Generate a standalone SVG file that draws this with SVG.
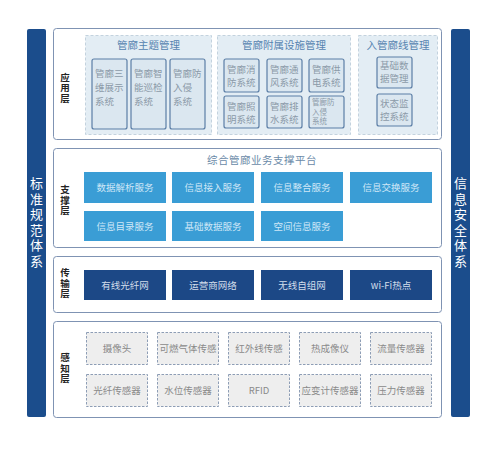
<svg xmlns="http://www.w3.org/2000/svg" width="499" height="461" viewBox="0 0 499 461">
<style>
text{font-family:"Noto Sans CJK SC","Noto Sans",sans-serif}
.bar{fill:#1b4d8c}
.bart{fill:#ffffff;font-size:13px;writing-mode:vertical-rl;letter-spacing:2.5px}
.layer{fill:#ffffff;stroke:#7f93b3;stroke-width:1}
.lt{fill:#222222;font-size:9.5px;font-weight:bold;writing-mode:vertical-rl;letter-spacing:1px}
.grp{fill:#e3edf4;stroke:#c3d2de;stroke-width:1;stroke-dasharray:3 2}
.gt{fill:#5583b0;font-size:10.5px;text-anchor:middle}
.item{fill:#dbe7f0;stroke:#5b7ea6;stroke-width:1.2}
.it{fill:#8b9aa8;font-size:9.5px}
.s2{fill:#8b9aa8;font-size:7.5px}
.svc{fill:#3a9dd5}
.svt{fill:#cfe7f7;font-size:9.5px;text-anchor:middle}
.net{fill:#1c4886}
.nt{fill:#d3deeb;font-size:9.5px;text-anchor:middle}
.sen{fill:#eeeeee;stroke:#8d9db5;stroke-width:1;stroke-dasharray:2.5 1.5}
.st{fill:#8a8a8a;font-size:9.5px;text-anchor:middle}
.pt{fill:#6a8aa8;font-size:10.5px;text-anchor:middle;letter-spacing:0.5px}
</style>
<rect width="499" height="461" fill="#ffffff"/>

<g id="standards">
<rect class="bar" x="27" y="29" width="19" height="388" rx="2"/>
<text class="bart" x="36.5" y="177">标准规范体系</text>
</g>
<g id="security">
<rect class="bar" x="451" y="29" width="19" height="388" rx="2"/>
<text class="bart" x="460.5" y="177">信息安全体系</text>
</g>

<g id="app-layer">
<rect class="layer" x="53.5" y="28.5" width="388" height="111" rx="3"/>
<text class="lt" x="65" y="72.5">应用层</text>
</g>
<g id="app-g1">
<rect class="grp" x="85.5" y="35.5" width="126" height="99"/>
<text class="gt" x="148.5" y="49">管廊主题管理</text>
<rect class="item" x="92" y="59" width="35" height="70" rx="2"/>
<text class="it" x="95" y="77">管廊三<tspan x="95" dy="14">维展示</tspan><tspan x="95" dy="14">系统</tspan></text>
<rect class="item" x="131" y="59" width="35" height="70" rx="2"/>
<text class="it" x="134" y="77">管廊智<tspan x="134" dy="14">能巡检</tspan><tspan x="134" dy="14">系统</tspan></text>
<rect class="item" x="170" y="59" width="35" height="70" rx="2"/>
<text class="it" x="173" y="77">管廊防<tspan x="173" dy="14">入侵</tspan><tspan x="173" dy="14">系统</tspan></text>
</g>
<g id="app-g2">
<rect class="grp" x="217.5" y="35.5" width="133" height="99"/>
<text class="gt" x="284" y="49">管廊附属设施管理</text>
<rect class="item" x="224" y="59" width="35" height="33" rx="2"/>
<text class="it" x="227" y="73">管廊消<tspan x="227" dy="13">防系统</tspan></text>
<rect class="item" x="267" y="59" width="35" height="33" rx="2"/>
<text class="it" x="270" y="73">管廊通<tspan x="270" dy="13">风系统</tspan></text>
<rect class="item" x="309" y="59" width="35" height="33" rx="2"/>
<text class="it" x="312" y="73">管廊供<tspan x="312" dy="13">电系统</tspan></text>
<rect class="item" x="224" y="96" width="35" height="32" rx="2"/>
<text class="it" x="227" y="110">管廊照<tspan x="227" dy="13">明系统</tspan></text>
<rect class="item" x="267" y="96" width="35" height="32" rx="2"/>
<text class="it" x="270" y="110">管廊排<tspan x="270" dy="13">水系统</tspan></text>
<rect class="item" x="309" y="96" width="35" height="32" rx="2"/>
<text class="s2" x="312" y="105">管廊防<tspan x="312" dy="9.5">入侵</tspan><tspan x="312" dy="9.5">系统</tspan></text>
</g>
<g id="app-g3">
<rect class="grp" x="358.5" y="35.5" width="79" height="99"/>
<text class="gt" x="398" y="49">入管廊线管理</text>
<rect class="item" x="377" y="57" width="35" height="31" rx="2"/>
<text class="it" x="380" y="69">基础数<tspan x="380" dy="13">据管理</tspan></text>
<rect class="item" x="377" y="94" width="35" height="32" rx="2"/>
<text class="it" x="380" y="107">状态监<tspan x="380" dy="13">控系统</tspan></text>
</g>

<g id="support-layer">
<rect class="layer" x="53.5" y="148.5" width="388" height="99" rx="3"/>
<text class="lt" x="65" y="185">支撑层</text>
<text class="pt" x="262" y="164">综合管廊业务支撑平台</text>
</g>
<g id="services">
<rect class="svc" x="84" y="172" width="82" height="31"/><text class="svt" x="125" y="191">数据解析服务</text>
<rect class="svc" x="172" y="172" width="82" height="31"/><text class="svt" x="213" y="191">信息接入服务</text>
<rect class="svc" x="261" y="172" width="82" height="31"/><text class="svt" x="302" y="191">信息整合服务</text>
<rect class="svc" x="350" y="172" width="82" height="31"/><text class="svt" x="391" y="191">信息交换服务</text>
<rect class="svc" x="84" y="211" width="82" height="30"/><text class="svt" x="125" y="229.5">信息目录服务</text>
<rect class="svc" x="172" y="211" width="82" height="30"/><text class="svt" x="213" y="229.5">基础数据服务</text>
<rect class="svc" x="261" y="211" width="82" height="30"/><text class="svt" x="302" y="229.5">空间信息服务</text>
</g>

<g id="transport-layer">
<rect class="layer" x="53.5" y="256.5" width="388" height="56" rx="3"/>
<text class="lt" x="65" y="268">传输层</text>
</g>
<g id="networks">
<rect class="net" x="84" y="270" width="82" height="30"/><text class="nt" x="125" y="288.5">有线光纤网</text>
<rect class="net" x="172" y="270" width="82" height="30"/><text class="nt" x="213" y="288.5">运营商网络</text>
<rect class="net" x="261" y="270" width="82" height="30"/><text class="nt" x="302" y="288.5">无线自组网</text>
<rect class="net" x="350" y="270" width="82" height="30"/><text class="nt" x="391" y="288.5">wi-Fi热点</text>
</g>

<g id="sense-layer">
<rect class="layer" x="53.5" y="321.5" width="388" height="96" rx="3"/>
<text class="lt" x="65" y="353">感知层</text>
</g>
<g id="sensors">
<rect class="sen" x="86.5" y="332.5" width="61" height="32"/><text class="st" x="117" y="352">摄像头</text>
<rect class="sen" x="157.5" y="332.5" width="61" height="32"/><text class="st" x="188" y="352">可燃气体传感</text>
<rect class="sen" x="228.5" y="332.5" width="61" height="32"/><text class="st" x="259" y="352">红外线传感</text>
<rect class="sen" x="299.5" y="332.5" width="61" height="32"/><text class="st" x="330" y="352">热成像仪</text>
<rect class="sen" x="370.5" y="332.5" width="61" height="32"/><text class="st" x="401" y="352">流量传感器</text>
<rect class="sen" x="86.5" y="374.5" width="61" height="32"/><text class="st" x="117" y="394">光纤传感器</text>
<rect class="sen" x="157.5" y="374.5" width="61" height="32"/><text class="st" x="188" y="394">水位传感器</text>
<rect class="sen" x="228.5" y="374.5" width="61" height="32"/><text class="st" x="259" y="394">RFID</text>
<rect class="sen" x="299.5" y="374.5" width="61" height="32"/><text class="st" x="330" y="394">应变计传感器</text>
<rect class="sen" x="370.5" y="374.5" width="61" height="32"/><text class="st" x="401" y="394">压力传感器</text>
</g>
</svg>
